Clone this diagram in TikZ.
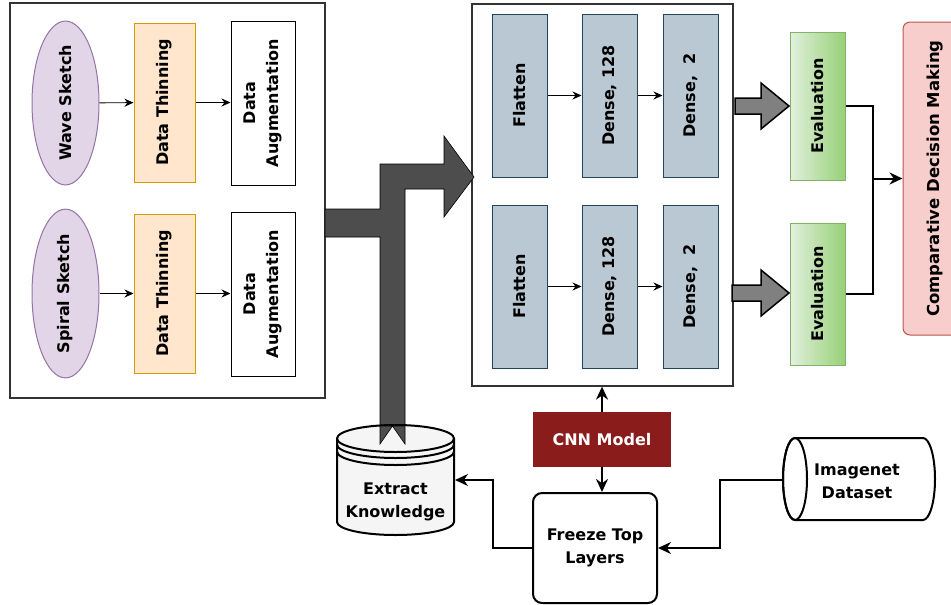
\documentclass[tikz,border=0pt]{standalone}
\usepackage{fontspec}
\setmainfont{DejaVu Sans}
\usetikzlibrary{arrows.meta,shapes.geometric}
\definecolor{purfill}{HTML}{E1D5E7}
\definecolor{purline}{HTML}{9673A6}
\definecolor{orfill}{HTML}{FFE6CC}
\definecolor{orline}{HTML}{D79B00}
\definecolor{blfill}{HTML}{BAC8D3}
\definecolor{blline}{HTML}{23445D}
\definecolor{grlight}{HTML}{E2F0DE}
\definecolor{grdark}{HTML}{97D077}
\definecolor{grline}{HTML}{82B366}
\definecolor{rdfill}{HTML}{F8CECC}
\definecolor{rdline}{HTML}{B85450}
\definecolor{cnnred}{HTML}{8B1C1C}
\definecolor{darkarrow}{HTML}{4D4D4D}
\definecolor{midarrow}{HTML}{808080}
\definecolor{boxline}{HTML}{333333}
\definecolor{cylfill}{HTML}{F5F5F5}
\tikzset{
  txt/.style={font=\fontsize{16}{23}\selectfont\bfseries, align=center},
  vbox/.style={txt, rotate=90, draw, inner sep=0pt, line width=1pt},
  container/.style={draw=boxline, line width=1.3pt, fill=white},
  thinarrow/.style={-{Stealth[length=9pt,width=8pt]}, line width=0.9pt},
  boldarrow/.style={-{Stealth[length=13pt,width=12pt]}, line width=2pt},
  boldline/.style={line width=2pt},
  bigarrow/.style={fill=darkarrow, draw=black, line width=0.6pt},
  grarrow/.style={fill=midarrow, draw=black, line width=1.5pt},
}
\begin{document}
\begin{tikzpicture}[x=1pt,y=-1pt]
\useasboundingbox (0,0) rectangle (951,605);
% left container
\node[container, minimum width=315pt, minimum height=395pt, inner sep=0pt] (leftbox) at (167.5,200.5) {};
% wave row
\node[vbox, ellipse, fill=purfill, draw=purline, minimum width=160pt, minimum height=67pt] (wave) at (65.5,103) {Wave Sketch};
\node[vbox, fill=orfill, draw=orline, minimum width=159pt, minimum height=61pt] (dt1) at (164.5,102.5) {Data Thinning};
\node[vbox, fill=white, minimum width=164pt, minimum height=64pt] (da1) at (263,103) {Data\\Augmentation};
% spiral row
\node[vbox, ellipse, fill=purfill, draw=purline, minimum width=160pt, minimum height=67pt] (spiral) at (65.5,293.5) {Spiral Sketch};
\node[vbox, fill=orfill, draw=orline, minimum width=159pt, minimum height=61pt] (dt2) at (164.5,293.5) {Data Thinning};
\node[vbox, fill=white, minimum width=164pt, minimum height=64pt] (da2) at (263,294) {Data\\Augmentation};
\draw[thinarrow] (wave) -- (dt1);
\draw[thinarrow] (dt1) -- (dt1 -| da1.north);
\draw[thinarrow] (spiral) -- (dt2);
\draw[thinarrow] (dt2) -- (dt2 -| da2.north);
% middle container
\node[container, minimum width=261pt, minimum height=382pt, inner sep=0pt] (mid) at (602.5,195) {};
\node[vbox, fill=blfill, draw=blline, minimum width=163pt, minimum height=55pt] (fl1) at (519.5,95.5) {Flatten};
\node[vbox, fill=blfill, draw=blline, minimum width=163pt, minimum height=55pt] (d1281) at (609.5,95.5) {Dense, 128};
\node[vbox, fill=blfill, draw=blline, minimum width=163pt, minimum height=55pt] (d21) at (690.5,95.5) {Dense,\ \ 2};
\node[vbox, fill=blfill, draw=blline, minimum width=163pt, minimum height=55pt] (fl2) at (519.5,286.5) {Flatten};
\node[vbox, fill=blfill, draw=blline, minimum width=163pt, minimum height=55pt] (d1282) at (609.5,286.5) {Dense, 128};
\node[vbox, fill=blfill, draw=blline, minimum width=163pt, minimum height=55pt] (d22) at (690.5,286.5) {Dense,\ \ 2};
\draw[thinarrow] (fl1) -- (d1281);
\draw[thinarrow] (d1281) -- (d21);
\draw[thinarrow] (fl2) -- (d1282);
\draw[thinarrow] (d1282) -- (d22);
% big dark arrow
\path[bigarrow] (325,209) -- (380,209) -- (380,164) -- (444,164) -- (444,136) -- (474,177) -- (444,217) -- (444,189) -- (405,189) -- (405,444) -- (392.5,426) -- (380,444) -- (380,237) -- (325,237) -- cycle;
% grey arrows
\path[grarrow] (735,98) -- (761,98) -- (761,83) -- (789,106) -- (761,129) -- (761,114) -- (735,114) -- cycle;
\path[grarrow] (732,285) -- (761,285) -- (761,270) -- (789,293) -- (761,316) -- (761,301) -- (732,301) -- cycle;
% evaluations
\node[vbox, draw=grline, left color=grlight, right color=grdark, minimum width=148pt, minimum height=55pt] (ev1) at (817.5,106) {Evaluation};
\node[vbox, draw=grline, left color=grlight, right color=grdark, minimum width=142pt, minimum height=55pt] (ev2) at (817.5,294) {Evaluation};
% comparative decision making
\node[vbox, fill=rdfill, draw=rdline, rounded corners=7pt, minimum width=313pt, minimum height=64pt] (cdm) at (935,178.5) {\fontsize{16.5}{20}\selectfont Comparative Decision Making};
\coordinate (junc) at (873,178.5);
\draw[boldline] (ev1.south) -- (873,106) -- (873,294) -- (ev2.south);
\draw[boldarrow] (junc) -- (cdm.north);
% CNN model
\node[txt, fill=cnnred, text=white, minimum width=138pt, minimum height=55pt, inner sep=0pt] (cnn) at (602,439.5) {CNN Model};
\node[txt, draw, fill=white, line width=2pt, rounded corners=9pt, minimum width=124pt, minimum height=110pt, inner sep=0pt] (freeze) at (595,548) {Freeze Top\\Layers};
\draw[boldarrow] (cnn.north) -- (cnn.north |- mid.south);
\draw[boldarrow] (cnn.south) -- (cnn.south |- freeze.north);
% extract knowledge cylinder
\path[fill=cylfill, draw=black, line width=2pt] (337,438.5) -- (337,522) arc[start angle=180, end angle=360, x radius=58.5pt, y radius=13pt] -- (454,438.5) arc[start angle=0, end angle=180, x radius=58.5pt, y radius=13.5pt] -- cycle;
\draw[line width=2pt] (337,438.5) arc[start angle=180, end angle=360, x radius=58.5pt, y radius=13.5pt];
\draw[line width=2pt] (337,444.5) arc[start angle=180, end angle=360, x radius=58.5pt, y radius=13.5pt];
\draw[line width=2pt] (337,451.5) arc[start angle=180, end angle=360, x radius=58.5pt, y radius=13.5pt];
\node[txt] (ektext) at (395.5,502) {Extract\\Knowledge};
\coordinate (ek) at (455,480);
% redraw notch of big arrow tail over cylinder top
\path[bigarrow] (380,426) -- (405,426) -- (405,444) -- (392.5,426) -- (380,444) -- cycle;
% imagenet cylinder
\path[fill=white, draw=black, line width=2pt] (795,438) -- (923,438) arc[start angle=90, end angle=-90, x radius=12pt, y radius=41pt] -- (795,520) arc[start angle=270, end angle=90, x radius=12pt, y radius=41pt] -- cycle;
\draw[line width=2pt] (795,479) ellipse[x radius=12pt, y radius=41pt];
\node[txt] (imtext) at (857,481) {Imagenet\\Dataset};
\coordinate (imn) at (783,480);
\draw[boldarrow] (freeze.west) -- (493,548) -- (493,480) -- (ek);
\draw[boldarrow] (imn) -- (720,480) -- (720,548) -- (freeze.east);
\end{tikzpicture}
\end{document}
